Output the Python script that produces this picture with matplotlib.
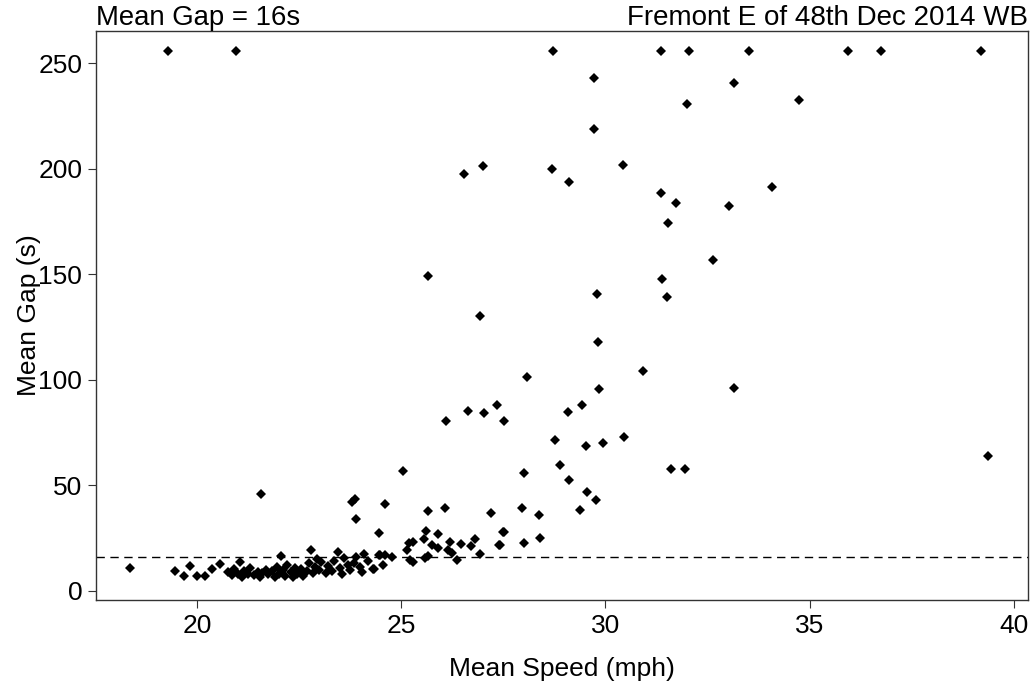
import numpy as np
import matplotlib
matplotlib.use("Agg")
from matplotlib import pyplot as plt

plt.rcParams['font.family'] = ['Liberation Sans', 'DejaVu Sans']

mean_gap = 16

# top row (capped gaps)
cap_speed = [19.29, 20.95, 28.73, 31.36, 32.04, 33.52, 35.95, 36.76, 39.21]
cap_gap = [255.5] * len(cap_speed)

# scattered points, higher speeds
hi_speed = [29.73, 32.0, 33.16, 34.74, 29.73, 30.43, 27.0, 26.55, 28.69, 29.11,
            31.36, 31.73, 33.03, 34.09, 31.53, 32.64, 25.65, 31.40, 31.5, 29.79,
            26.93, 29.82, 30.92, 28.09, 33.15, 29.85, 26.64, 27.03, 27.35, 29.08,
            29.44, 26.1, 27.51, 30.46, 28.77, 29.95, 29.53, 39.37, 28.88, 28.0,
            25.04, 31.61, 31.95, 29.12, 29.56, 21.56, 23.79, 23.87, 24.61, 29.76,
            28.37, 27.96, 23.89, 27.19, 29.37, 25.67, 26.07]
hi_gap = [242.9, 230.4, 240.4, 232.3, 218.8, 201.7, 201.2, 197.3, 199.8, 193.5,
          188.6, 183.6, 182.3, 191.2, 174.1, 156.7, 149.1, 147.9, 139.1, 140.5,
          130.4, 117.9, 104.2, 101.5, 96.0, 95.5, 85.4, 84.1, 87.9, 84.8,
          87.9, 80.5, 80.5, 72.9, 71.5, 69.9, 68.7, 64.0, 59.7, 55.9,
          56.8, 57.8, 57.8, 52.6, 47.0, 45.9, 42.3, 43.6, 41.0, 43.1,
          36.0, 39.1, 34.1, 36.8, 38.4, 37.9, 39.1]

# low cluster
lo_speed = [18.35, 19.46, 19.69, 19.83, 19.99, 20.19, 20.36, 20.56, 21.05,
            20.75, 20.85, 20.9, 21.0, 21.1, 21.15, 21.25, 21.3, 21.4, 21.5,
            21.55, 21.6, 21.7, 21.75, 21.85, 21.9, 21.95, 22.0, 22.05, 22.1,
            22.15, 22.2, 22.3, 22.35, 22.4, 22.45, 22.55, 22.6, 22.7, 22.75,
            22.8, 22.85, 22.9, 22.95, 23.0, 23.05, 23.15, 23.2, 23.3, 23.35,
            23.45, 23.5, 23.55, 23.6, 23.7, 23.75, 23.85, 23.9, 24.0, 24.05,
            24.1, 24.2, 24.3, 24.33, 24.45, 24.55, 24.61, 24.77, 24.45,
            25.14, 25.2, 25.28, 25.57, 25.61, 25.75, 25.91, 25.91, 26.2, 26.16,
            26.25, 26.36, 26.46, 26.71, 26.8, 26.93, 27.39, 27.49, 27.52,
            27.41, 28.0, 28.41, 25.22, 25.30, 25.58, 25.65, 24.49]
lo_gap = [10.9, 9.5, 7.2, 12.0, 7.1, 7.1, 10.3, 12.6, 13.9,
          9.0, 7.5, 10.5, 8.0, 6.8, 9.5, 8.2, 11.0, 7.5, 9.0,
          6.5, 8.5, 10.0, 7.8, 9.2, 6.8, 11.5, 8.0, 16.6, 10.0,
          7.2, 12.5, 9.0, 6.5, 11.0, 8.0, 10.5, 7.0, 9.5, 13.0,
          19.5, 8.5, 11.5, 15.0, 10.0, 13.5, 8.5, 12.0, 9.5, 14.0,
          18.5, 11.0, 8.0, 15.5, 12.5, 10.0, 13.0, 16.0, 11.5, 9.0,
          17.5, 14.0, 10.5, 10.4, 17.0, 12.5, 17.0, 16.2, 27.3,
          19.4, 22.9, 23.2, 24.6, 28.6, 21.8, 20.2, 26.8, 23.0, 19.4,
          17.8, 14.7, 22.3, 21.3, 24.6, 17.4, 21.8, 27.8, 27.8,
          21.8, 22.9, 25.2, 14.7, 13.9, 15.5, 16.6, 17.0]

speed = np.array(cap_speed + hi_speed + lo_speed)
gap = np.array(cap_gap + hi_gap + lo_gap)

fig = plt.figure(figsize=(10.36, 6.86), dpi=100)
ax = fig.add_axes([0.0927, 0.1254, 0.8996, 0.8294])

ax.plot(speed, gap, 'D', color='black', markersize=5.4, markeredgewidth=0)
ax.axhline(mean_gap, color='black', linestyle=(0, (6, 4)), linewidth=1)

ax.set_xlim(17.53, 40.35)
ax.set_ylim(-4.3, 265.2)
ax.set_xticks([20, 25, 30, 35, 40])
ax.set_yticks([0, 50, 100, 150, 200, 250])

fs = 19
ax.tick_params(direction='out', length=6, width=0.8, labelsize=fs, pad=4, color='#333333')
for s in ax.spines.values():
    s.set_color('#333333')
    s.set_linewidth(1)

ax.set_xlabel('Mean Speed (mph)', fontsize=fs, labelpad=14)
ax.set_ylabel('Mean Gap (s)', fontsize=fs, labelpad=-2)
ax.set_title('Mean Gap = %ds' % mean_gap, loc='left', fontsize=19.8, pad=2)
ax.set_title('Fremont E of 48th Dec 2014 WB', loc='right', fontsize=20, pad=2)

fig.savefig('out.png', dpi=100)
